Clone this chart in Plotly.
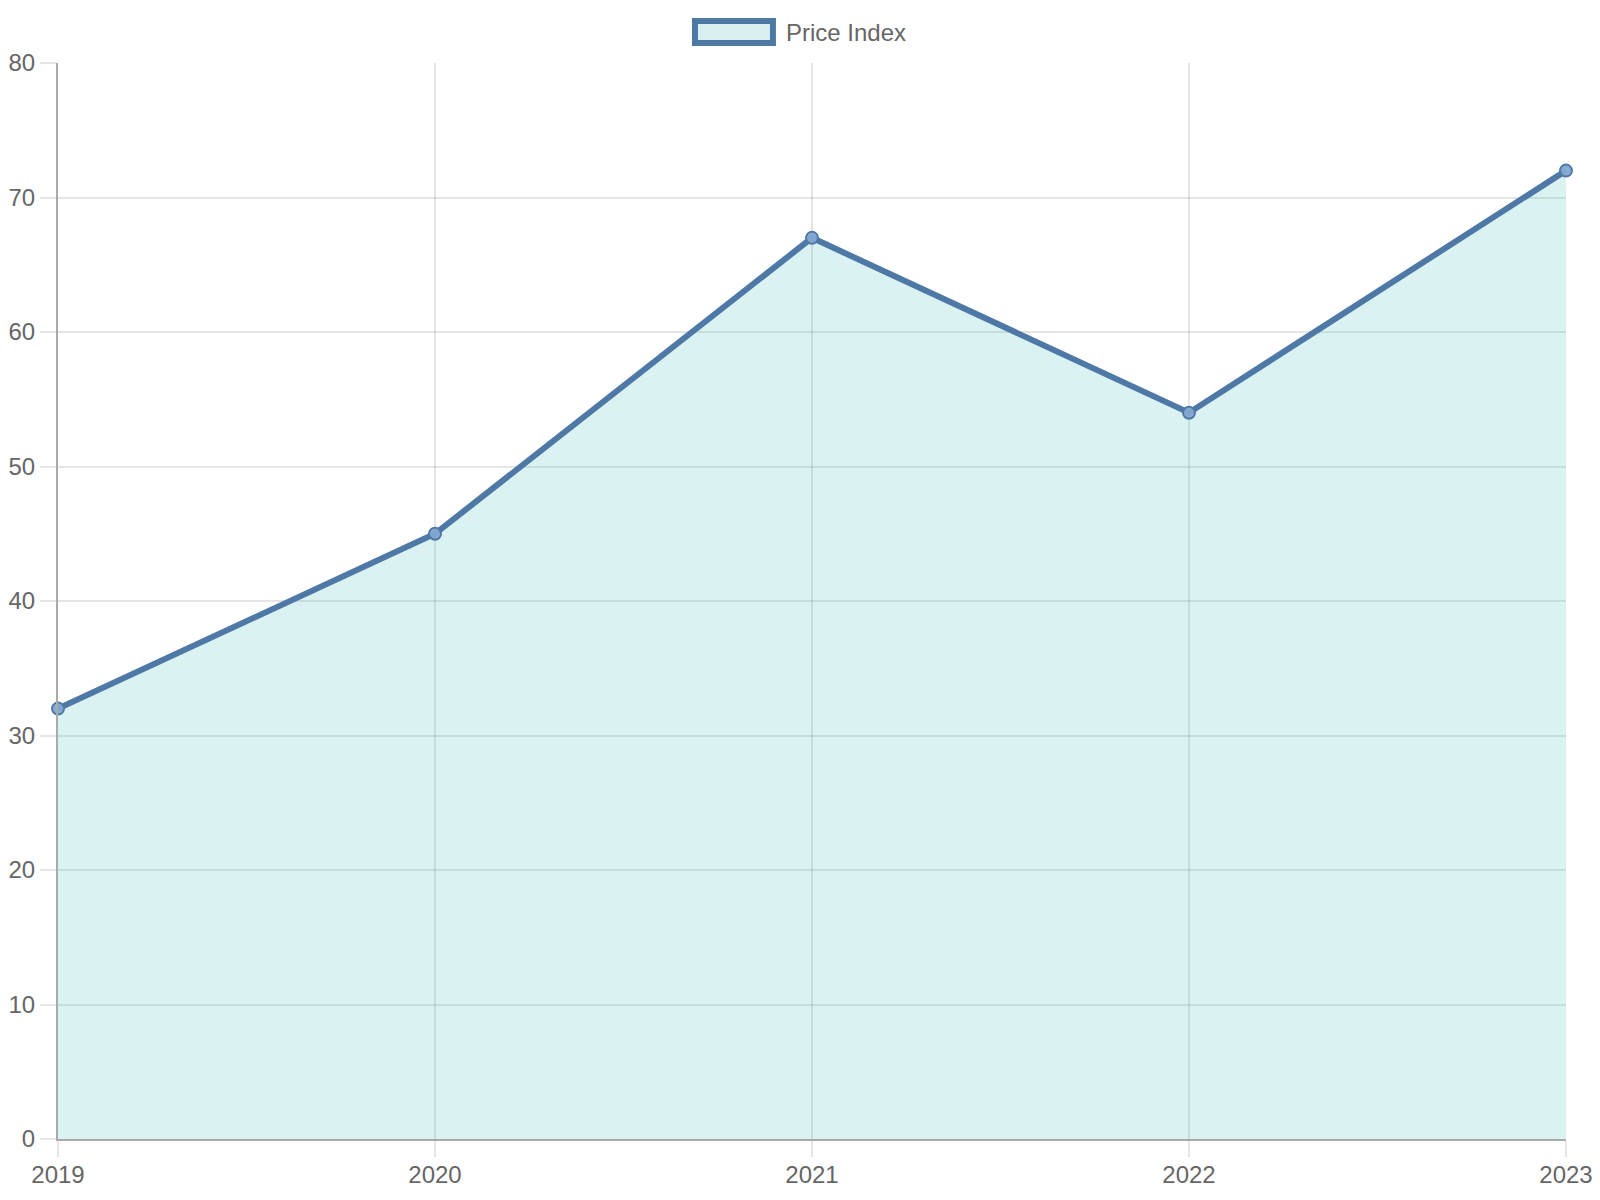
import plotly.graph_objects as go

years = [2019, 2020, 2021, 2022, 2023]
price_index = [32, 45, 67, 54, 72]
series_name = "Price Index"

line_color = "#4e79a7"
fill_color = "rgba(75,192,192,0.2)"
grid_color = "rgba(0,0,0,0.1)"

fig = go.Figure()
fig.add_trace(go.Scatter(
    x=years, y=price_index, name=series_name,
    mode="lines+markers", fill="tozeroy", fillcolor=fill_color,
    line=dict(color=line_color, width=6),
    marker=dict(size=12, color="rgba(130,168,210,0.95)", line=dict(color=line_color, width=2)),
    cliponaxis=False, showlegend=False,
))

# legend drawn chart.js style: framed box + label
fig.add_shape(type="rect", xref="paper", yref="paper",
              x0=0.4224, x1=0.4741, y0=1.0186, y1=1.0390,
              line=dict(color=line_color, width=6), fillcolor="#daf0f0")
fig.add_annotation(text=series_name, xref="paper", yref="paper",
                   x=0.4814, y=1.0288, xanchor="left", yanchor="middle",
                   showarrow=False, font=dict(size=24, color="#666666"))

# page body has an 8px margin, so the figure is shrunk a bit to fit the window
fig.update_layout(
    width=1592, height=1192,
    margin=dict(l=50, r=34, t=55, b=61),
    plot_bgcolor="white", paper_bgcolor="white",
    font=dict(family="Liberation Sans, Arial, sans-serif", size=24, color="#666666"),
)
fig.update_xaxes(
    range=[2019, 2023], tickvals=years, ticktext=[str(y) for y in years],
    showgrid=True, gridcolor=grid_color, gridwidth=2,
    showline=True, linecolor="#aaaaaa", linewidth=2,
    ticks="outside", ticklen=16, tickcolor=grid_color, tickwidth=2,
    ticklabelstandoff=-3,
    zeroline=False, automargin=False,
)
fig.update_yaxes(
    range=[0, 80], dtick=10,
    showgrid=True, gridcolor=grid_color, gridwidth=2,
    showline=True, linecolor="#aaaaaa", linewidth=2,
    ticks="outside", ticklen=16, tickcolor=grid_color, tickwidth=2,
    zeroline=False, automargin=False,
)

fig.write_html("out.html")
